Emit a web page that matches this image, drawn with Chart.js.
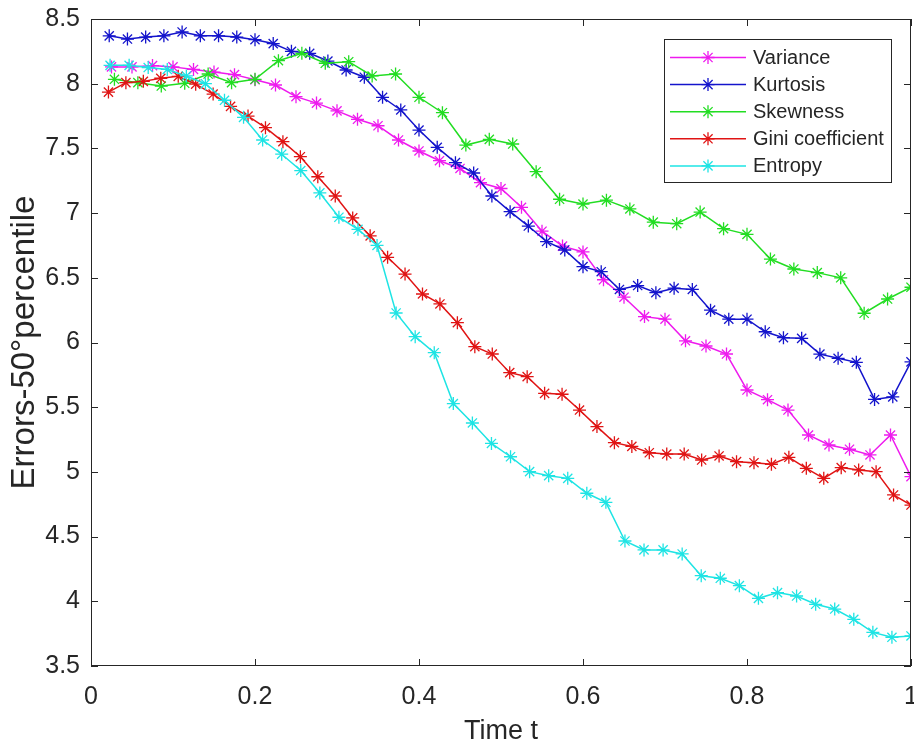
<!DOCTYPE html>
<html>
<head>
<meta charset="utf-8">
<script src="https://cdn.jsdelivr.net/npm/chart.js@4.4.1/dist/chart.umd.min.js"></script>
<style>
  html, body { margin: 0; padding: 0; background: #ffffff; }
  #wrap { width: 914px; height: 750px; position: relative; }
</style>
</head>
<body>
<div id="wrap"><canvas id="c" width="914" height="750"></canvas></div>
<script>
// ---- data ----
const seriesNames = ['Variance', 'Kurtosis', 'Skewness', 'Gini coefficient', 'Entropy'];
const seriesColors = ['#ee1bee', '#1414cc', '#22dd22', '#e01414', '#1ee4e4'];

const varianceValues = [8.13, 8.13, 8.14, 8.13, 8.11, 8.09, 8.07, 8.03, 7.99, 7.90,
  7.85, 7.79, 7.725, 7.675, 7.565, 7.48, 7.405, 7.345, 7.235, 7.19,
  7.045, 6.86, 6.745, 6.70, 6.485, 6.35, 6.20, 6.18, 6.013, 5.973,
  5.911, 5.633, 5.558, 5.478, 5.285, 5.208, 5.175, 5.131, 5.285, 4.963];

const kurtosisValues = [8.37, 8.345, 8.36, 8.37, 8.40, 8.37, 8.37, 8.36, 8.34, 8.31,
  8.25, 8.235, 8.175, 8.106, 8.05, 7.895, 7.797, 7.642, 7.508, 7.39,
  7.31, 7.132, 7.011, 6.90, 6.78, 6.715, 6.586, 6.547, 6.41, 6.44,
  6.385, 6.42, 6.41, 6.25, 6.18, 6.18, 6.083, 6.037, 6.032, 5.91,
  5.878, 5.847, 5.56, 5.58, 5.85];

const skewnessValues = [8.034, 8.008, 7.982, 8.003, 8.075, 8.008, 8.034, 8.178, 8.235, 8.158,
  8.17, 8.06, 8.075, 7.895, 7.776, 7.526, 7.57, 7.534, 7.32, 7.107,
  7.07, 7.10, 7.032, 6.93, 6.918, 7.008, 6.88, 6.836, 6.645, 6.568,
  6.54, 6.50, 6.226, 6.336, 6.427];

const giniValues = [7.935, 8.008, 8.018, 8.042, 8.057, 7.996, 7.92, 7.825, 7.75, 7.66,
  7.552, 7.436, 7.281, 7.132, 6.963, 6.824, 6.658, 6.529, 6.375, 6.298,
  6.153, 5.968, 5.911, 5.767, 5.736, 5.607, 5.60, 5.478, 5.35, 5.226,
  5.197, 5.148, 5.138, 5.138, 5.092, 5.123, 5.079, 5.071, 5.059, 5.113,
  5.028, 4.95, 5.033, 5.015, 5.002, 4.822, 4.744];

const entropyValues = [8.142, 8.142, 8.125, 8.11, 8.06, 8.0, 7.872, 7.74, 7.565, 7.455,
  7.329, 7.156, 6.968, 6.875, 6.75, 6.228, 6.045, 5.921, 5.528, 5.378,
  5.22, 5.117, 5.002, 4.971, 4.95, 4.835, 4.765, 4.466, 4.397, 4.397,
  4.366, 4.198, 4.178, 4.121, 4.023, 4.067, 4.041, 3.977, 3.94, 3.861,
  3.76, 3.722, 3.732];

const xTickValues = [0, 0.2, 0.4, 0.6, 0.8, 1];
const xTickLabels = ['0', '0.2', '0.4', '0.6', '0.8', '1'];
const yTickValues = [3.5, 4, 4.5, 5, 5.5, 6, 6.5, 7, 7.5, 8, 8.5];
const yTickLabels = ['3.5', '4', '4.5', '5', '5.5', '6', '6.5', '7', '7.5', '8', '8.5'];

const xTitle = 'Time t';
const yTitle = 'Errors-50°percentile';

// each series is sampled on a uniform time grid t = k/N, k = 1..N
function timeGrid(n) { const t = []; for (let k = 1; k <= n; k++) t.push(k / n); return t; }

const allValues = [varianceValues, kurtosisValues, skewnessValues, giniValues, entropyValues];

const FONT = '"Liberation Sans", Arial, Helvetica, sans-serif';
const AXIS_COLOR = '#262626';

function drawStar(ctx, x, y, r) {
  ctx.beginPath();
  ctx.moveTo(x - r, y); ctx.lineTo(x + r, y);
  ctx.moveTo(x, y - r); ctx.lineTo(x, y + r);
  const d = r * Math.SQRT1_2;
  ctx.moveTo(x - d, y - d); ctx.lineTo(x + d, y + d);
  ctx.moveTo(x - d, y + d); ctx.lineTo(x + d, y - d);
  ctx.stroke();
}

const axesBoxPlugin = {
  id: 'axesBox',
  afterDraw(chart) {
    const { ctx, chartArea: ca } = chart;
    const xs = chart.scales.x, ys = chart.scales.y;
    ctx.save();
    ctx.strokeStyle = AXIS_COLOR;
    ctx.lineWidth = 1;
    ctx.strokeRect(ca.left + 0.5, ca.top + 0.5, ca.right - ca.left - 1, ca.bottom - ca.top - 1);
    const tl = 7;
    ctx.beginPath();
    xTickValues.forEach(v => {
      const px = Math.round(xs.getPixelForValue(v)) + 0.5;
      ctx.moveTo(px, ca.bottom); ctx.lineTo(px, ca.bottom - tl);
      ctx.moveTo(px, ca.top); ctx.lineTo(px, ca.top + tl);
    });
    yTickValues.forEach(v => {
      const py = Math.round(ys.getPixelForValue(v)) + 0.5;
      ctx.moveTo(ca.left, py); ctx.lineTo(ca.left + tl, py);
      ctx.moveTo(ca.right, py); ctx.lineTo(ca.right - tl, py);
    });
    ctx.stroke();
    ctx.restore();
  }
};

const legendPlugin = {
  id: 'matlabLegend',
  afterDraw(chart) {
    const { ctx, chartArea: ca } = chart;
    const right = ca.right - 20, top = ca.top + 20;
    const w = 227, h = 143, left = right - w;
    ctx.save();
    ctx.fillStyle = '#ffffff';
    ctx.fillRect(left, top, w, h);
    ctx.strokeStyle = AXIS_COLOR;
    ctx.lineWidth = 1;
    ctx.strokeRect(left + 0.5, top + 0.5, w, h);
    ctx.font = '20px ' + FONT;
    ctx.textBaseline = 'middle';
    ctx.textAlign = 'left';
    chart.data.datasets.forEach((ds, i) => {
      const y = top + 18.5 + i * 27.1;
      ctx.strokeStyle = ds.borderColor;
      ctx.lineWidth = 1.5;
      ctx.beginPath();
      ctx.moveTo(left + 6, y); ctx.lineTo(left + 82, y);
      ctx.stroke();
      ctx.lineWidth = 1.3;
      drawStar(ctx, left + 44, y, 6.5);
      ctx.fillStyle = AXIS_COLOR;
      ctx.fillText(ds.label, left + 89, y + 1);
    });
    ctx.restore();
  }
};

const datasets = seriesNames.map((name, i) => {
  const vals = allValues[i];
  const t = timeGrid(vals.length);
  return {
    label: name,
    data: vals.map((v, k) => ({ x: t[k], y: v })),
    borderColor: seriesColors[i],
    backgroundColor: seriesColors[i],
    borderWidth: 1.5,
    pointStyle: 'star',
    pointRadius: 6.5,
    pointBorderWidth: 1.3,
    pointHoverRadius: 6.5,
    tension: 0,
    fill: false,
    clip: 0,
    order: seriesNames.length - i
  };
});

new Chart(document.getElementById('c'), {
  type: 'line',
  data: { datasets },
  options: {
    responsive: false,
    animation: false,
    events: [],
    layout: { autoPadding: false, padding: { top: 19, right: 3, bottom: 0, left: 0 } },
    plugins: {
      legend: { display: false },
      tooltip: { enabled: false },
      title: { display: false }
    },
    scales: {
      x: {
        type: 'linear',
        min: 0, max: 1,
        afterBuildTicks(scale) { scale.ticks = xTickValues.map(v => ({ value: v })); },
        afterFit(scale) { scale.height = 84; scale.paddingLeft = 0; scale.paddingRight = 0; },
        grid: { display: false, drawTicks: false },
        border: { display: false },
        ticks: {
          autoSkip: false,
          maxRotation: 0,
          padding: 16,
          color: AXIS_COLOR,
          font: { family: FONT, size: 25 },
          callback(value) { const i = xTickValues.indexOf(value); return i >= 0 ? xTickLabels[i] : ''; }
        },
        title: {
          display: true, text: xTitle, color: AXIS_COLOR,
          font: { family: FONT, size: 27 },
          padding: { top: 0, bottom: 2 }
        }
      },
      y: {
        type: 'linear',
        min: 3.5, max: 8.5,
        afterBuildTicks(scale) { scale.ticks = yTickValues.map(v => ({ value: v })); },
        afterFit(scale) { scale.width = 91; scale.paddingTop = 0; scale.paddingBottom = 0; },
        grid: { display: false, drawTicks: false },
        border: { display: false },
        ticks: {
          autoSkip: false,
          padding: 11,
          color: AXIS_COLOR,
          font: { family: FONT, size: 25 },
          callback(value) { const i = yTickValues.indexOf(value); return i >= 0 ? yTickLabels[i] : ''; }
        },
        title: {
          display: true, text: yTitle, color: AXIS_COLOR,
          font: { family: FONT, size: 33 },
          padding: { top: 5, bottom: 0 }
        }
      }
    }
  },
  plugins: [axesBoxPlugin, legendPlugin]
});
</script>
</body>
</html>
